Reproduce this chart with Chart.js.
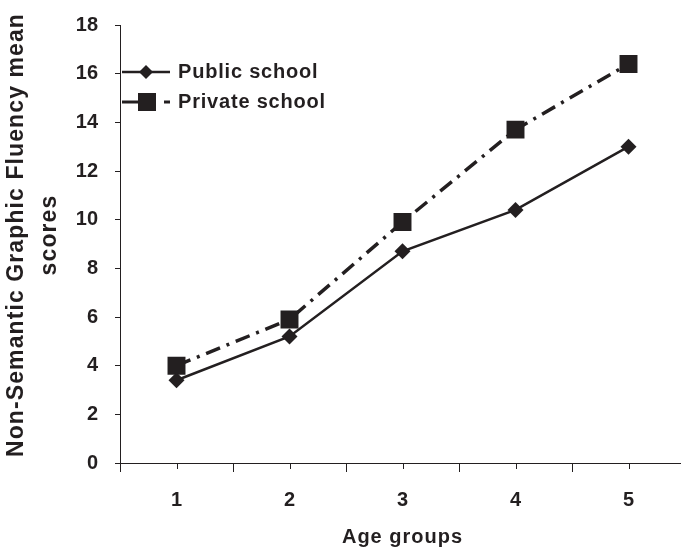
<!DOCTYPE html>
<html>
<head>
<meta charset="utf-8">
<script src="https://cdn.jsdelivr.net/npm/chart.js@4"></script>
<style>
  html, body { margin: 0; padding: 0; background: #fff; overflow: hidden; }
  #wrap { width: 681px; height: 553px; overflow: hidden; }
  canvas { display: block; }
</style>
</head>
<body>
<div id="wrap"><canvas id="c" width="685" height="553"></canvas></div>
<script>
const categories = ['1', '2', '3', '4', '5'];
const publicSchool = [3.4, 5.2, 8.7, 10.4, 13.0];
const privateSchool = [4.0, 5.9, 9.9, 13.7, 16.4];
const seriesNames = ['Public school', 'Private school'];
const yTitle = ['Non-Semantic Graphic Fluency mean', 'scores'];
const xTitle = 'Age groups';

const INK = '#231f20';
const FONT = "'Liberation Sans', Arial, sans-serif";

const titleStyle = { x: { spacing: '1px', dy: 0 }, y: { spacing: '1.1px', dy: -9 } };

const spacedTitles = {
  id: 'spacedTitles',
  afterLayout(chart) {
    Object.keys(titleStyle).forEach(id => {
      const s = chart.scales[id];
      if (!s || s._spacedPatched) return;
      const orig = s.drawTitle.bind(s);
      s.drawTitle = function () {
        const ctx = chart.ctx;
        ctx.save();
        ctx.letterSpacing = titleStyle[id].spacing;
        ctx.translate(0, titleStyle[id].dy);
        orig();
        ctx.restore();
      };
      s._spacedPatched = true;
    });
  }
};

const centerTicks = {
  id: 'centerTicks',
  afterDraw(chart) {
    const x = chart.scales.x, ctx = chart.ctx;
    ctx.save();
    ctx.strokeStyle = INK; ctx.lineWidth = 1;
    categories.forEach((c, i) => {
      const px = Math.round(x.getPixelForValue(i)) + 0.5;
      ctx.beginPath(); ctx.moveTo(px, x.top); ctx.lineTo(px, x.top + 6); ctx.stroke();
    });
    ctx.restore();
  }
};

const innerLegend = {
  id: 'innerLegend',
  afterDraw(chart) {
    const ctx = chart.ctx, area = chart.chartArea;
    const x0 = area.left + 2;
    ctx.save();
    ctx.font = 'bold 20px ' + FONT;
    ctx.letterSpacing = '0.8px';
    ctx.fillStyle = INK; ctx.strokeStyle = INK;
    ctx.textBaseline = 'middle'; ctx.textAlign = 'left';
    // row 1: public
    let y = 72;
    ctx.lineWidth = 2.5; ctx.setLineDash([]);
    ctx.beginPath(); ctx.moveTo(x0, y); ctx.lineTo(x0 + 48, y); ctx.stroke();
    ctx.beginPath();
    ctx.moveTo(x0 + 24, y - 7); ctx.lineTo(x0 + 31, y); ctx.lineTo(x0 + 24, y + 7); ctx.lineTo(x0 + 17, y); ctx.closePath(); ctx.fill();
    ctx.fillText(seriesNames[0], x0 + 56, y);
    // row 2: private
    y = 102;
    ctx.lineWidth = 3;
    ctx.beginPath(); ctx.moveTo(x0, y); ctx.lineTo(x0 + 18, y); ctx.stroke();
    ctx.fillRect(x0 + 16, y - 9, 18, 18);
    ctx.beginPath(); ctx.moveTo(x0 + 42, y); ctx.lineTo(x0 + 48, y); ctx.stroke();
    ctx.fillText(seriesNames[1], x0 + 56, y);
    ctx.restore();
  }
};

new Chart(document.getElementById('c'), {
  type: 'line',
  data: {
    labels: categories,
    datasets: [
      {
        label: seriesNames[0], data: publicSchool,
        borderColor: INK, backgroundColor: INK, borderWidth: 2.5,
        pointStyle: 'rectRot', pointRadius: 8, pointHoverRadius: 8,
        pointBorderWidth: 0, tension: 0
      },
      {
        label: seriesNames[1], data: privateSchool,
        borderColor: INK, backgroundColor: INK, borderWidth: 3.5,
        borderDash: [15, 7, 3, 7],
        pointStyle: 'rect', pointRadius: 12.7, pointHoverRadius: 12.7,
        pointBorderWidth: 0, tension: 0
      }
    ]
  },
  options: {
    responsive: false,
    animation: false,
    layout: { autoPadding: false, padding: { top: 25, right: 0, left: 0, bottom: 0 } },
    plugins: { legend: { display: false }, tooltip: { enabled: false } },
    scales: {
      x: {
        offset: true,
        grid: { display: true, drawOnChartArea: false, offset: true, tickLength: 9, color: INK, lineWidth: 1 },
        border: { display: true, color: INK, width: 1 },
        ticks: { color: INK, font: { family: FONT, size: 20, weight: 'bold' }, padding: 16, maxRotation: 0 },
        title: { display: true, text: xTitle, color: INK, font: { family: FONT, size: 20, weight: 'bold' }, padding: { top: 10, bottom: 4 } },
        afterFit(s) { s.height = 90; }
      },
      y: {
        min: 0, max: 18,
        ticks: { stepSize: 2, color: INK, font: { family: FONT, size: 20, weight: 'bold', lineHeight: 0.8 }, padding: 17 },
        grid: { display: true, drawOnChartArea: false, tickLength: 5, color: INK, lineWidth: 1 },
        border: { display: true, color: INK, width: 1 },
        title: { display: true, text: yTitle, color: INK, font: { family: FONT, size: 23, weight: 'bold', lineHeight: 1.43 }, padding: { top: 0, bottom: 0 } },
        afterFit(s) { s.width = 120; }
      }
    }
  },
  plugins: [spacedTitles, centerTicks, innerLegend]
});
</script>
</body>
</html>
